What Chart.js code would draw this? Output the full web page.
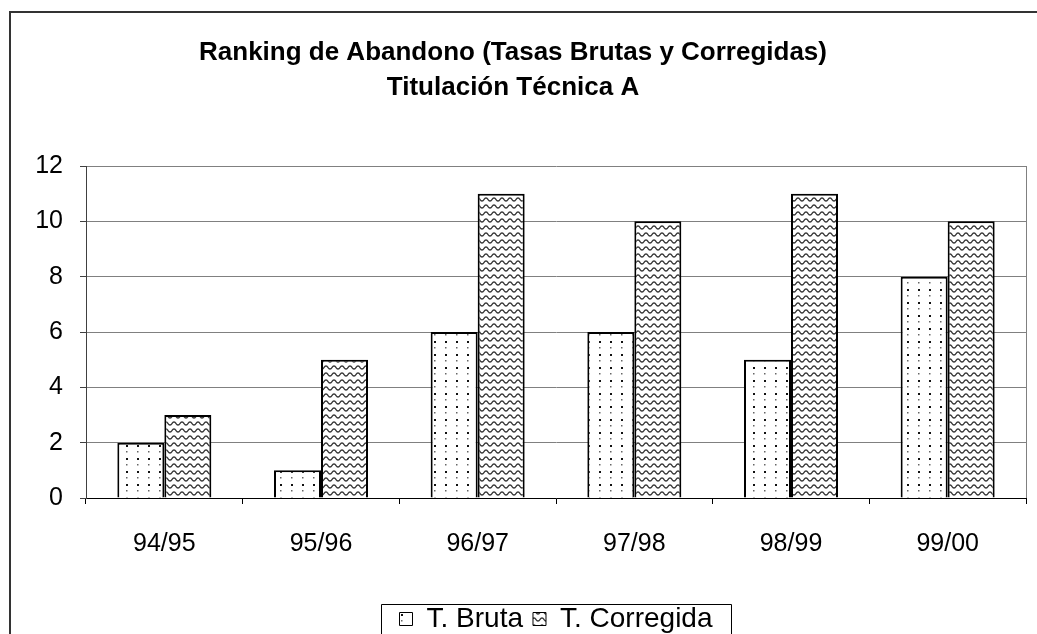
<!DOCTYPE html>
<html>
<head>
<meta charset="utf-8">
<script src="https://cdn.jsdelivr.net/npm/chart.js@4/dist/chart.umd.min.js"></script>
<style>
html,body{margin:0;padding:0;background:#fff;}
canvas{display:block;}
</style>
</head>
<body>
<canvas id="c" width="1037" height="634"></canvas>
<script>
const categories = ['94/95','95/96','96/97','97/98','98/99','99/00'];
const tBruta = [2, 1, 6, 6, 5, 8];
const tCorregida = [3, 5, 11, 10, 11, 10];
const seriesNames = ['T. Bruta', 'T. Corregida'];
const titleLines = ['Ranking de Abandono (Tasas Brutas y Corregidas)', 'Titulación Técnica A'];

function dotPattern() {
  const c = document.createElement('canvas');
  c.width = 11; c.height = 13;
  const g = c.getContext('2d');
  g.fillStyle = '#fff'; g.fillRect(0,0,11,13);
  g.fillStyle = '#111'; g.fillRect(5,3,2,2);
  g.fillStyle = '#666'; g.fillRect(5,9,1.5,1.5);
  return g.createPattern(c, 'repeat');
}
function wavePattern() {
  const c = document.createElement('canvas');
  c.width = 8; c.height = 7;
  const g = c.getContext('2d');
  g.fillStyle = '#fff'; g.fillRect(0,0,8,7);
  g.strokeStyle = '#333'; g.lineWidth = 1.3;
  g.beginPath();
  for (let x = -1; x <= 9; x += 0.5) {
    const y = 3.5 + 1.6*Math.sin(2*Math.PI*x/8);
    if (x === -1) g.moveTo(x,y); else g.lineTo(x,y);
  }
  g.stroke();
  return g.createPattern(c, 'repeat');
}

const framePlugin = {
  id: 'frame',
  afterDraw(chart) {
    const ctx = chart.ctx, a = chart.chartArea;
    ctx.save();
    ctx.strokeStyle = '#333'; ctx.lineWidth = 2;
    ctx.beginPath();
    ctx.moveTo(10, 640); ctx.lineTo(10, 12); ctx.lineTo(1040, 12);
    ctx.stroke();
    ctx.strokeStyle = '#808080'; ctx.lineWidth = 1;
    ctx.beginPath();
    ctx.moveTo(Math.round(a.right)+0.5, a.top); ctx.lineTo(Math.round(a.right)+0.5, a.bottom);
    ctx.stroke();
    const lg = chart.legend;
    if (lg) {
      const cx = Math.round((lg.left + lg.right)/2);
      ctx.strokeStyle = '#000'; ctx.lineWidth = 1;
      ctx.beginPath();
      ctx.moveTo(cx-175+0.5, 640); ctx.lineTo(cx-175+0.5, 604.5);
      ctx.lineTo(cx+175+0.5, 604.5); ctx.lineTo(cx+175+0.5, 640);
      ctx.stroke();
    }
    ctx.restore();
  }
};

const FONT = 'Liberation Sans, Arial, sans-serif';

new Chart(document.getElementById('c'), {
  type: 'bar',
  data: {
    labels: categories,
    datasets: [
      { label: seriesNames[0], data: tBruta, backgroundColor: dotPattern(), borderColor: '#000', borderWidth: 2 },
      { label: seriesNames[1], data: tCorregida, backgroundColor: wavePattern(), borderColor: '#000', borderWidth: 2 }
    ]
  },
  options: {
    responsive: false,
    animation: false,
    layout: { padding: { left: 0, right: 11, top: 0, bottom: -9 } },
    datasets: { bar: { categoryPercentage: 0.6, barPercentage: 1.0 } },
    plugins: {
      title: {
        display: true,
        text: titleLines,
        color: '#000',
        font: { family: FONT, size: 26, weight: 'bold', lineHeight: 35/26 },
        padding: { top: 35, bottom: 61 }
      },
      legend: {
        position: 'bottom',
        fullSize: false,
        labels: {
          color: '#000',
          font: { family: FONT, size: 28 },
          boxWidth: 13, boxHeight: 13,
          padding: 10,
          generateLabels(chart) {
            return chart.data.datasets.map((d, i) => ({
              text: d.label, fillStyle: d.backgroundColor, strokeStyle: '#000', lineWidth: 1,
              datasetIndex: i, hidden: false, fontColor: '#000'
            }));
          }
        }
      },
      tooltip: { enabled: false }
    },
    scales: {
      x: {
        grid: { offset: true, drawOnChartArea: false, tickLength: 6, color: '#000', tickColor: '#000' },
        border: { color: '#000', width: 1 },
        ticks: { color: '#000', font: { family: FONT, size: 25 }, padding: 25, maxRotation: 0 },
        afterFit(s) { s.height = 97; }
      },
      y: {
        min: 0, max: 12,
        ticks: { stepSize: 2, color: '#000', font: { family: FONT, size: 25 }, padding: 17 },
        grid: { color: '#808080', tickLength: 6, tickColor: '#404040' },
        border: { color: '#404040', width: 1 },
        afterFit(s) { s.width = 86; }
      }
    }
  },
  plugins: [framePlugin]
});
</script>
</body>
</html>
